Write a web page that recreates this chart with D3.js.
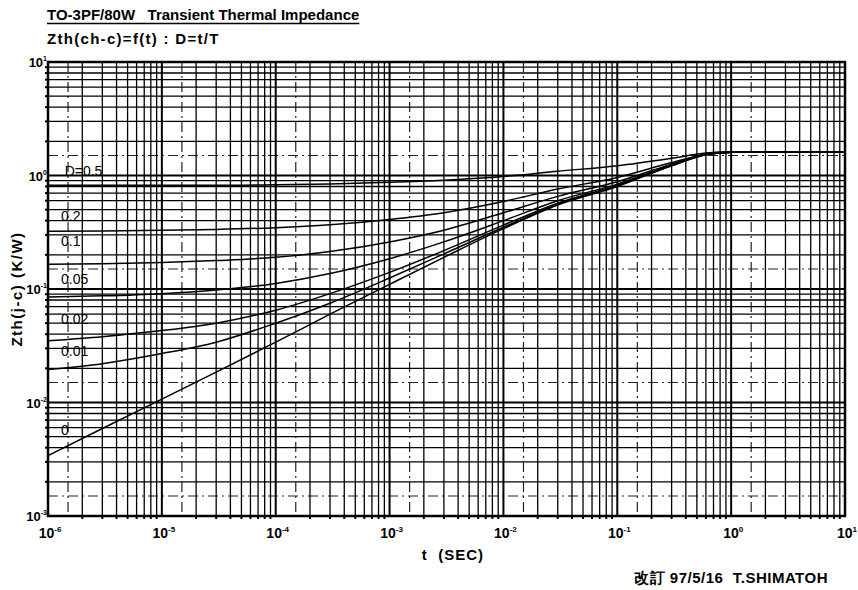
<!DOCTYPE html>
<html>
<head>
<meta charset="utf-8">
<script src="https://cdn.jsdelivr.net/npm/d3@7"></script>
<style>
  body { margin: 0; background: #fff; }
  svg { font-family: "Liberation Sans", Arial, sans-serif; }
</style>
</head>
<body>
<div id="chart"></div>
<script>

// pulse width t (sec) where the curves were read
var times = [1e-6, 3e-6, 1e-5, 3e-5, 1e-4, 3e-4, 1e-3, 3e-3, 1e-2, 3e-2, 1e-1, 3e-1, 6e-1, 1, 3, 10];

// Zth values (K/W) per duty ratio
var zD05  = [0.82, 0.82, 0.82, 0.82, 0.83, 0.84, 0.87, 0.91, 0.98, 1.09, 1.22, 1.42, 1.58, 1.62, 1.62, 1.62];
var zD02  = [0.323, 0.325, 0.329, 0.335, 0.347, 0.368, 0.41, 0.47, 0.59, 0.76, 0.96, 1.30, 1.54, 1.60, 1.61, 1.61];
var zD01  = [0.165, 0.167, 0.171, 0.178, 0.19, 0.214, 0.26, 0.33, 0.47, 0.655, 0.88, 1.26, 1.53, 1.60, 1.61, 1.61];
var zD005 = [0.085, 0.087, 0.091, 0.098, 0.112, 0.137, 0.185, 0.26, 0.40, 0.60, 0.84, 1.24, 1.53, 1.60, 1.61, 1.61];
var zD002 = [0.035, 0.038, 0.043, 0.050, 0.065, 0.091, 0.14, 0.218, 0.365, 0.57, 0.82, 1.23, 1.53, 1.60, 1.61, 1.61];
var zD001 = [0.0195, 0.022, 0.027, 0.034, 0.050, 0.075, 0.125, 0.204, 0.35, 0.56, 0.81, 1.22, 1.52, 1.60, 1.61, 1.61];
var zD0   = [0.0034, 0.0059, 0.0107, 0.0185, 0.034, 0.060, 0.11, 0.19, 0.34, 0.55, 0.80, 1.22, 1.52, 1.60, 1.61, 1.61];

var seriesNames = ["D=0.5", "0.2", "0.1", "0.05", "0.02", "0.01", "0"];
var seriesData  = [zD05, zD02, zD01, zD005, zD002, zD001, zD0];
// baseline of each curve label, as a value on the y axis
var labelValues = [1.0, 0.40, 0.237, 0.11, 0.049, 0.0255, 0.0052];

var xTickExp = [-6, -5, -4, -3, -2, -1, 0, 1];
var yTickExp = [1, 0, -1, -2, -3];

var titleText = "TO-3PF/80W   Transient Thermal Impedance";
var subTitleText = "Zth(ch-c)=f(t) : D=t/T";
var yLabelText = "Zth(j-c) (K/W)";
var xLabelText = "t  (SEC)";
var footerText = "改訂 97/5/16  T.SHIMATOH";

var fullWidth = 858, fullHeight = 590;
var margin = {top: 62, right: 13, bottom: 74, left: 48},
    width = fullWidth - margin.left - margin.right,
    height = fullHeight - margin.top - margin.bottom;

var x = d3.scaleLog().domain([1e-6, 1e1]).range([0, width]);
var y = d3.scaleLog().domain([1e-3, 1e1]).range([height, 0]);

var root = d3.select("#chart").append("svg")
    .attr("width", fullWidth)
    .attr("height", fullHeight);

// titles
var title = root.append("text")
    .attr("x", 47).attr("y", 20)
    .attr("font-size", 15).attr("font-weight", "bold")
    .attr("xml:space", "preserve")
    .text(titleText);
var tw = title.node().getComputedTextLength();
root.append("line")
    .attr("x1", 47).attr("x2", 47 + tw)
    .attr("y1", 23.5).attr("y2", 23.5)
    .attr("stroke", "#000").attr("stroke-width", 1.5);

root.append("text")
    .attr("x", 47).attr("y", 44)
    .attr("font-size", 15).attr("font-weight", "bold")
    .attr("letter-spacing", 1.3)
    .text(subTitleText);

var svg = root.append("g")
    .attr("transform", "translate(" + margin.left + "," + margin.top + ")");

// graph paper grid
var decadesX = d3.range(-6, 1), decadesY = d3.range(-3, 1);
var solidX = [], dashX = [], majorX = [];
decadesX.forEach(function(e) {
    var b = Math.pow(10, e);
    for (var k = 2; k <= 9; k++) solidX.push(k * b);
    dashX.push(1.5 * b);
});
xTickExp.forEach(function(e) { majorX.push(Math.pow(10, e)); });
var solidY = [], dashY = [], majorY = [];
decadesY.forEach(function(e) {
    var b = Math.pow(10, e);
    for (var k = 2; k <= 9; k++) solidY.push(k * b);
    dashY.push(1.5 * b);
});
yTickExp.forEach(function(e) { majorY.push(Math.pow(10, e)); });

var grid = svg.append("g").attr("class", "grid");

grid.selectAll("line.dx").data(dashX).enter().append("line")
    .attr("x1", d => x(d)).attr("x2", d => x(d))
    .attr("y1", 0).attr("y2", height)
    .attr("stroke", "#222").attr("stroke-width", 1.2)
    .attr("stroke-dasharray", "10,4,2,4");
grid.selectAll("line.dy").data(dashY).enter().append("line")
    .attr("y1", d => y(d)).attr("y2", d => y(d))
    .attr("x1", 0).attr("x2", width)
    .attr("stroke", "#222").attr("stroke-width", 1.2)
    .attr("stroke-dasharray", "10,4,2,4");

grid.selectAll("line.sx").data(solidX).enter().append("line")
    .attr("x1", d => x(d)).attr("x2", d => x(d))
    .attr("y1", 0).attr("y2", height)
    .attr("stroke", "#000").attr("stroke-width", 1.3);
grid.selectAll("line.sy").data(solidY).enter().append("line")
    .attr("y1", d => y(d)).attr("y2", d => y(d))
    .attr("x1", 0).attr("x2", width)
    .attr("stroke", "#000").attr("stroke-width", 1.3);

grid.selectAll("line.mx").data(majorX).enter().append("line")
    .attr("x1", d => x(d)).attr("x2", d => x(d))
    .attr("y1", 0).attr("y2", height)
    .attr("stroke", "#000").attr("stroke-width", 2);
grid.selectAll("line.my").data(majorY).enter().append("line")
    .attr("y1", d => y(d)).attr("y2", d => y(d))
    .attr("x1", 0).attr("x2", width)
    .attr("stroke", "#000").attr("stroke-width", 2);

// frame
svg.append("rect")
    .attr("width", width).attr("height", height)
    .attr("fill", "none").attr("stroke", "#000").attr("stroke-width", 2.5);

// small ticks under bottom edge and left of left edge
svg.selectAll("line.tx").data(solidX).enter().append("line")
    .attr("x1", d => x(d)).attr("x2", d => x(d))
    .attr("y1", height).attr("y2", height + 3)
    .attr("stroke", "#000").attr("stroke-width", 2);
svg.selectAll("line.ty").data(solidY).enter().append("line")
    .attr("y1", d => y(d)).attr("y2", d => y(d))
    .attr("x1", -3).attr("x2", 0)
    .attr("stroke", "#000").attr("stroke-width", 2);

// curves
var line = d3.line()
    .x(d => x(d[0]))
    .y(d => y(d[1]))
    .curve(d3.curveMonotoneX);

seriesData.forEach(function(vals, i) {
    var pts = times.map(function(t, j) { return [t, vals[j]]; });
    svg.append("path")
        .datum(pts)
        .attr("fill", "none")
        .attr("stroke", "#000")
        .attr("stroke-width", 1.5)
        .attr("d", line);
});

// curve labels
svg.selectAll("text.clabel").data(seriesNames).enter().append("text")
    .attr("x", (d, i) => x(i == 0 ? 1.4e-6 : 1.3e-6))
    .attr("y", (d, i) => y(labelValues[i]))
    .attr("font-size", 14)
    .text(d => d);

// tick labels
var xAxisG = svg.append("g").attr("transform", "translate(0," + height + ")");
var xl = xAxisG.selectAll("text").data(xTickExp).enter().append("text")
    .attr("x", d => x(Math.pow(10, d)) + 2)
    .attr("y", 22)
    .attr("text-anchor", "middle")
    .attr("font-size", 14).attr("font-weight", "bold");
xl.append("tspan").text("10");
xl.append("tspan").attr("dy", -6).attr("font-size", 8).text(d => d);

var yl = svg.append("g").selectAll("text").data(yTickExp).enter().append("text")
    .attr("x", -1)
    .attr("y", d => y(Math.pow(10, d)) + 5)
    .attr("text-anchor", "end")
    .attr("font-size", 13).attr("font-weight", "bold");
yl.append("tspan").text("10");
yl.append("tspan").attr("dy", -6).attr("font-size", 7).text(d => d);

// axis titles
root.append("text")
    .attr("transform", "translate(22," + (margin.top + y(0.1)) + ") rotate(-90)")
    .attr("text-anchor", "middle")
    .attr("font-size", 15).attr("font-weight", "bold")
    .attr("letter-spacing", 1.5)
    .text(yLabelText);

root.append("text")
    .attr("x", margin.left + x(3.6e-3)).attr("y", 560)
    .attr("text-anchor", "middle")
    .attr("font-size", 15).attr("font-weight", "bold")
    .attr("letter-spacing", 1)
    .attr("xml:space", "preserve")
    .text(xLabelText);

root.append("text")
    .attr("x", 828).attr("y", 583)
    .attr("text-anchor", "end")
    .attr("font-size", 15).attr("font-weight", "bold")
    .attr("letter-spacing", 0.5)
    .attr("xml:space", "preserve")
    .text(footerText);

</script>
</body>
</html>
